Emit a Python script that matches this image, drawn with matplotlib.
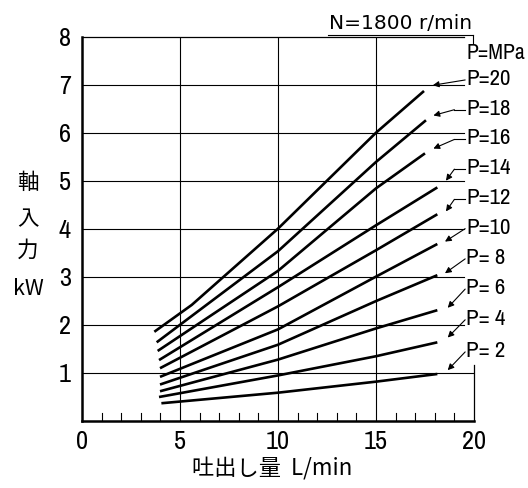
import matplotlib
matplotlib.use("Agg")
import matplotlib.pyplot as plt
from matplotlib import font_manager

plt.rcParams.update({"font.family": ["Noto Sans CJK JP", "DejaVu Sans"]})

# pick a condensed face if one is installed
names = sorted({f.name for f in font_manager.fontManager.ttflist})
NARROW_NAME = next((n for n in names if "Condensed" in n or "Narrow" in n), "DejaVu Sans")

# shaft input (kW) vs discharge (L/min) at N=1800 r/min, one curve per pressure
pressures = [2, 4, 6, 8, 10, 12, 14, 16, 18, 20]
flow_p2 = [4.05, 10, 15, 18.13];  power_p2 = [0.36, 0.58, 0.81, 0.97]
flow_p4 = [3.93, 10, 15, 18.13];  power_p4 = [0.49, 0.94, 1.34, 1.63]
flow_p6 = [3.98, 10, 15, 18.13];  power_p6 = [0.61, 1.27, 1.92, 2.30]
flow_p8 = [3.98, 10, 15, 18.13];  power_p8 = [0.75, 1.58, 2.49, 3.03]
flow_p10 = [3.98, 10, 15, 18.13]; power_p10 = [0.91, 1.90, 3.00, 3.68]
flow_p12 = [3.98, 10, 15, 18.13]; power_p12 = [1.09, 2.38, 3.55, 4.30]
flow_p14 = [3.93, 10, 15, 18.13]; power_p14 = [1.26, 2.78, 4.07, 4.86]
flow_p16 = [3.86, 10, 15, 17.5];  power_p16 = [1.45, 3.12, 4.84, 5.57]
flow_p18 = [3.81, 10, 15, 17.55]; power_p18 = [1.63, 3.53, 5.39, 6.26]
flow_p20 = [3.69, 5.6, 10, 15, 17.45]; power_p20 = [1.85, 2.41, 4.0, 6.0, 6.87]

curves = [(flow_p2, power_p2), (flow_p4, power_p4), (flow_p6, power_p6),
          (flow_p8, power_p8), (flow_p10, power_p10), (flow_p12, power_p12),
          (flow_p14, power_p14), (flow_p16, power_p16), (flow_p18, power_p18),
          (flow_p20, power_p20)]

# label position (y) and arrow target for each curve
label_y = [1.45, 2.12, 2.76, 3.39, 4.02, 4.63, 5.26, 5.88, 6.50, 7.12]
arrow_xy = [(18.66, 1.05), (18.66, 1.73), (18.66, 2.35), (18.52, 3.07), (18.52, 3.73),
            (18.57, 4.36), (18.57, 5.0), (17.93, 5.67), (17.93, 6.36), (17.9, 6.99)]
has_hook = [False, False, False, False, False, True, True, True, True, False]

fig = plt.figure(figsize=(5.28, 4.88), dpi=100)
ax = fig.add_axes([0.1553, 0.1383, 0.7424, 0.7863])
ax.set_xlim(0, 20)
ax.set_ylim(0, 8)

for s in ("top", "right"):
    ax.spines[s].set_visible(False)
ax.spines["left"].set_linewidth(1.8)
ax.spines["bottom"].set_linewidth(1.8)

# grid, drawn by hand because the lines stop short of the labels
for v in (5, 10, 15):
    ax.plot([v, v], [0, 8], color="black", lw=0.8, zorder=1)
for h in range(1, 8):
    ax.plot([0, 20 if h == 1 else 19.5], [h, h], color="black", lw=0.8, zorder=1)
ax.plot([0, 19.5], [8, 8], color="black", lw=0.9, clip_on=False)
ax.plot([20, 20], [0, 1.15], color="black", lw=0.9, clip_on=False)

# minor ticks inside
for t in range(1, 20):
    if t % 5:
        ax.plot([t, t], [0, 0.15], color="black", lw=0.8)

for (fx, py) in curves:
    ax.plot(fx, py, color="black", lw=1.9, solid_capstyle="butt", zorder=3)

for p, ly, (ax_, ay), hook in zip(pressures, label_y, arrow_xy, has_hook):
    lab = f"P={p}" if p >= 10 else f"P= {p}"
    ax.text(19.6, ly, lab, fontsize=16.5, family=NARROW_NAME, fontstretch="condensed",
            va="center", ha="left", clip_on=False)
    start = (19.55, ly - 0.02)
    if hook:
        ax.plot([19.55, 19.0], [ly - 0.02, ly - 0.02], color="black", lw=0.8, clip_on=False)
        start = (19.0, ly - 0.02)
    ax.annotate("", xy=(ax_, ay), xytext=start,
                arrowprops=dict(arrowstyle="-|>", lw=0.8, color="black",
                                mutation_scale=9, shrinkA=0, shrinkB=0),
                annotation_clip=False)

ax.text(19.6, 7.66, "P=MPa", fontsize=15.5, family=NARROW_NAME, fontstretch="condensed",
        va="center", ha="left", clip_on=False)
ax.text(12.6, 8.07, "N=1800 r/min", fontsize=14.5, family="DejaVu Sans", va="bottom", ha="left",
        clip_on=False)
ax.plot([12.55, 19.95], [8.04, 8.04], color="black", lw=0.8, clip_on=False)
ax.plot([19.95, 19.95], [8.04, 7.88], color="black", lw=0.8, clip_on=False)

ax.set_xticks([0, 5, 10, 15, 20])
ax.set_yticks(range(1, 9))
ax.tick_params(axis="x", length=0, labelsize=19, pad=7)
ax.tick_params(axis="y", length=0, labelsize=19, pad=8)
for lbl in ax.get_xticklabels() + ax.get_yticklabels():
    lbl.set_family(NARROW_NAME)
    lbl.set_fontstretch("condensed")

for ch, yy in (("軸", 183), ("入", 219), ("力", 251), ("kW", 289)):
    fig.text(28 / 528, 1 - yy / 488, ch, fontsize=15.5, ha="center", va="center",
             family=["Noto Sans CJK JP", "DejaVu Sans"])
fig.text(272 / 528, 1 - 469 / 488, "吐出し量  L/min", fontsize=16, ha="center", va="center",
         family=["Noto Sans CJK JP", "DejaVu Sans"])

fig.savefig("out.png", dpi=100)
